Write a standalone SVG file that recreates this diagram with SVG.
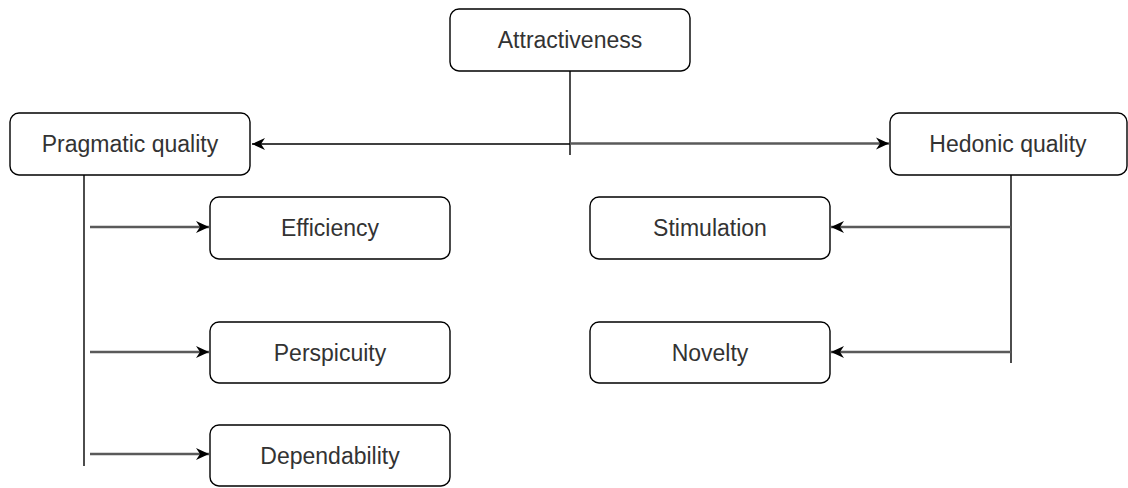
<svg xmlns="http://www.w3.org/2000/svg" width="1128" height="488" viewBox="0 0 1128 488">
<style>
.box{fill:#fff;stroke:#000;stroke-width:1.4}
.lbl{font-family:"Liberation Sans",Arial,sans-serif;font-size:23px;fill:#333;text-anchor:middle}
.blk{fill:none;stroke:#000;stroke-width:1.4}
.gry{fill:none;stroke:#5a5a5a;stroke-width:2.6}
</style>
<defs>
<marker id="ah" markerUnits="userSpaceOnUse" markerWidth="16" markerHeight="14" refX="13" refY="7" orient="auto">
<path d="M0,1 L13,7 L0,13 L4,7 Z" fill="#000"/>
</marker>
</defs>
<rect width="1128" height="488" fill="#fff"/>
<g id="connectors">
<path class="blk" d="M570,71 V155"/>
<path class="blk" d="M570,144 H252" marker-end="url(#ah)"/>
<path class="gry" d="M570,143.5 H889" marker-end="url(#ah)"/>
<path class="blk" d="M84,175 V466"/>
<path class="gry" d="M90,227 H209" marker-end="url(#ah)"/>
<path class="gry" d="M90,352 H209" marker-end="url(#ah)"/>
<path class="gry" d="M90,454 H209" marker-end="url(#ah)"/>
<path class="blk" d="M1011,175 V363"/>
<path class="gry" d="M1011,227 H831" marker-end="url(#ah)"/>
<path class="gry" d="M1011,352 H831" marker-end="url(#ah)"/>
</g>
<g id="attractiveness"><rect class="box" x="450" y="9" width="240" height="62" rx="9"/><text class="lbl" x="570" y="48">Attractiveness</text></g>
<g id="pragmatic"><rect class="box" x="10" y="113" width="240" height="62" rx="9"/><text class="lbl" x="130" y="152">Pragmatic quality</text></g>
<g id="hedonic"><rect class="box" x="890" y="113" width="237" height="62" rx="9"/><text class="lbl" x="1008" y="152">Hedonic quality</text></g>
<g id="efficiency"><rect class="box" x="210" y="197" width="240" height="62" rx="9"/><text class="lbl" x="330" y="236">Efficiency</text></g>
<g id="perspicuity"><rect class="box" x="210" y="322" width="240" height="61" rx="9"/><text class="lbl" x="330" y="361">Perspicuity</text></g>
<g id="dependability"><rect class="box" x="210" y="425" width="240" height="61" rx="9"/><text class="lbl" x="330" y="464">Dependability</text></g>
<g id="stimulation"><rect class="box" x="590" y="197" width="240" height="62" rx="9"/><text class="lbl" x="710" y="236">Stimulation</text></g>
<g id="novelty"><rect class="box" x="590" y="322" width="240" height="61" rx="9"/><text class="lbl" x="710" y="361">Novelty</text></g>
</svg>
